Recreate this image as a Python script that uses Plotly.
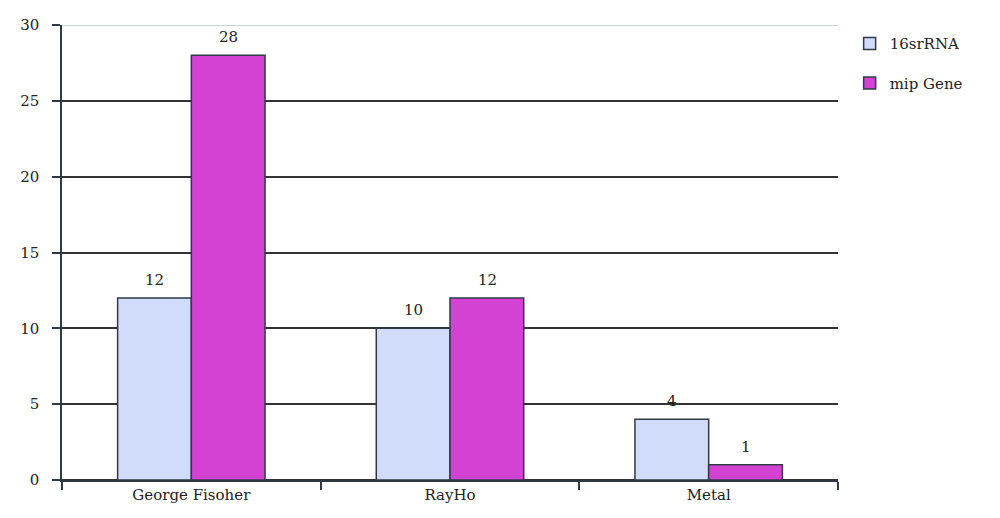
import plotly.graph_objects as go

categories = ["George Fisoher", "RayHo", "Metal"]
series_names = ["16srRNA", "mip Gene"]
values_16s = [12, 10, 4]
values_mip = [28, 12, 1]
y_ticks = [0, 5, 10, 15, 20, 25, 30]

font_family = "DejaVu Serif"
edge = "#2f3a44"
fs = 15

fig = go.Figure()
fig.add_trace(go.Bar(
    x=categories, y=values_16s, name=series_names[0],
    marker=dict(color="#d0dcfa", line=dict(color=edge, width=1.5)),
    legendgroup="a",
))
fig.add_trace(go.Bar(
    x=categories, y=values_mip, name=series_names[1],
    marker=dict(color="#d442d4", line=dict(color=edge, width=1.5)),
    legendgroup="b",
))

annotations = []
for vals, shift in ((values_16s, -37), (values_mip, 37)):
    for c, v in zip(categories, vals):
        annotations.append(dict(
            x=c, y=v, text=str(v), showarrow=False, xshift=shift, yshift=7,
            yanchor="bottom", font=dict(size=fs, family=font_family, color="#222"),
        ))

fig.update_layout(
    width=1000, height=518,
    margin=dict(l=54, r=170, t=17, b=46),
    plot_bgcolor="white", paper_bgcolor="white",
    barmode="group", bargap=0.43, bargroupgap=0,
    font=dict(family=font_family, size=fs, color="#222"),
    legend=dict(x=1.015, y=0.995, xanchor="left", yanchor="top",
                traceorder="grouped", tracegroupgap=17,
                font=dict(size=fs, family=font_family)),
    showlegend=True,
    annotations=annotations,
    shapes=[dict(type="line", xref="paper", x0=0, x1=1, yref="y", y0=30, y1=30,
                 line=dict(color="#c9d2da", width=2), layer="above")],
)
fig.update_xaxes(
    showline=True, linecolor=edge, linewidth=1.5,
    ticks="outside", tickson="boundaries", ticklen=8, tickcolor=edge, tickwidth=1.5,
    showgrid=False, automargin=False,
)
fig.update_yaxes(
    range=[0, 30], tickvals=y_ticks,
    showline=True, linecolor=edge, linewidth=1.5,
    ticks="outside", ticklen=8, tickcolor=edge, tickwidth=1.5,
    showgrid=True, gridcolor="#333333", gridwidth=1.5,
    zeroline=True, zerolinecolor="#333333", zerolinewidth=1.5,
    ticklabelstandoff=10, automargin=False,
)

fig.write_html("out.html")
